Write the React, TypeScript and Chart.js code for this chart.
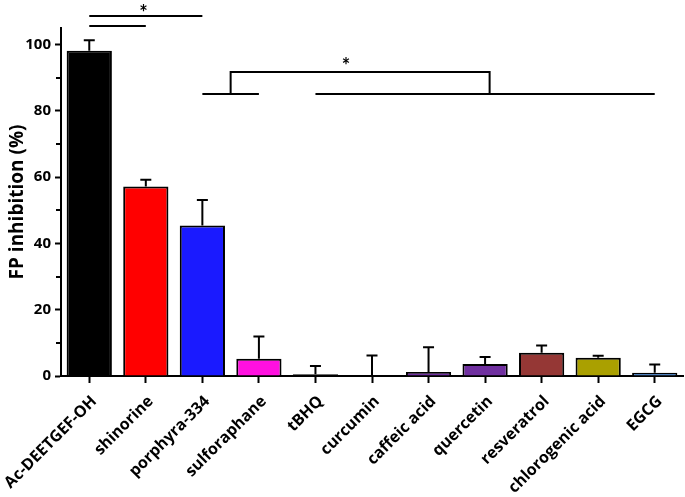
import React, { useEffect, useRef } from "react";
import { Chart, registerables } from "chart.js";

Chart.register(...registerables);

const categories = [
  "Ac-DEETGEF-OH",
  "shinorine",
  "porphyra-334",
  "sulforaphane",
  "tBHQ",
  "curcumin",
  "caffeic acid",
  "quercetin",
  "resveratrol",
  "chlorogenic acid",
  "EGCG",
];
const values = [98.1, 57.2, 45.4, 5.2, 0.5, 0, 1.2, 3.6, 7.0, 5.5, 1.0];
const errors = [3.2, 2.0, 7.7, 6.7, 2.5, 6.2, 7.5, 2.1, 2.2, 0.6, 2.5];
const barColors = [
  "#000000",
  "#ff0000",
  "#1a1aff",
  "#ff10e0",
  "#000000",
  "#000000",
  "#7030a0",
  "#7030a0",
  "#953735",
  "#aaa000",
  "#4f81bd",
];
const yTickValues = [0, 20, 40, 60, 80, 100];
const yMinorTicks = [10, 30, 50, 70, 90];
const yAxisTitle = "FP inhibition (%)";

// significance annotations (category index / value units)
const sigLines = [
  { from: 0, to: 2, level: 108.6 },
  { from: 0, to: 1, level: 105.6 },
  { from: 2, to: 3, level: 85.2 },
  { from: 4, to: 10, level: 85.2 },
];
const sigBrackets = [{ from: 2.5, to: 7.08, base: 85.2, top: 91.8 }];
const sigStars = [
  { at: 0.96, level: 110.6 },
  { at: 4.54, level: 94.6 },
];

const FONT = "'Open Sans', 'DejaVu Sans', sans-serif";
const STAR_FONT = "Lato, 'DejaVu Sans', sans-serif";

const overlayPlugin = {
  id: "overlay",
  afterDatasetsDraw(chart: any) {
    const ctx = chart.ctx;
    const x = chart.scales.x;
    const y = chart.scales.y;
    ctx.save();
    ctx.strokeStyle = "#000";
    ctx.lineWidth = 2;
    values.forEach((v, i) => {
      const px = x.getPixelForValue(i);
      const y0 = y.getPixelForValue(v);
      const y1 = y.getPixelForValue(v + errors[i]);
      ctx.beginPath();
      ctx.moveTo(px, y0);
      ctx.lineTo(px, y1);
      ctx.moveTo(px - 5.5, y1);
      ctx.lineTo(px + 5.5, y1);
      ctx.stroke();
    });
    ctx.restore();
  },
  afterDraw(chart: any) {
    const ctx = chart.ctx;
    const x = chart.scales.x;
    const y = chart.scales.y;
    ctx.save();
    ctx.strokeStyle = "#000";
    ctx.lineWidth = 2;
    const left = chart.chartArea.left;
    yMinorTicks.forEach((v) => {
      const py = Math.round(y.getPixelForValue(v));
      ctx.beginPath();
      ctx.moveTo(left - 5, py);
      ctx.lineTo(left, py);
      ctx.stroke();
    });
    sigLines.forEach((s) => {
      const py = Math.round(y.getPixelForValue(s.level));
      ctx.beginPath();
      ctx.moveTo(x.getPixelForValue(s.from), py);
      ctx.lineTo(x.getPixelForValue(s.to), py);
      ctx.stroke();
    });
    sigBrackets.forEach((b) => {
      const pb = Math.round(y.getPixelForValue(b.base));
      const pt = Math.round(y.getPixelForValue(b.top));
      const x0 = x.getPixelForValue(b.from);
      const x1 = x.getPixelForValue(b.to);
      ctx.beginPath();
      ctx.moveTo(x0, pb);
      ctx.lineTo(x0, pt);
      ctx.lineTo(x1, pt);
      ctx.lineTo(x1, pb);
      ctx.stroke();
    });
    ctx.fillStyle = "#000";
    ctx.font = `bold 20px ${STAR_FONT}`;
    ctx.textAlign = "center";
    ctx.textBaseline = "middle";
    sigStars.forEach((s) => {
      ctx.fillText("*", x.getPixelForValue(s.at), y.getPixelForValue(s.level) + 4);
    });
    ctx.restore();
  },
};

export default function App() {
  const ref = useRef<HTMLCanvasElement>(null);
  useEffect(() => {
    const chart = new Chart(ref.current as HTMLCanvasElement, {
      type: "bar",
      data: {
        labels: categories,
        datasets: [
          {
            data: values,
            backgroundColor: barColors,
            borderColor: "#000",
            borderWidth: 2,
            borderSkipped: "bottom",
            barPercentage: 0.8,
            categoryPercentage: 1,
          },
        ],
      },
      options: {
        responsive: false,
        animation: false,
        layout: { padding: { top: 28, right: 2, left: 0, bottom: 0 } },
        plugins: {
          legend: { display: false },
          tooltip: { enabled: false },
        },
        scales: {
          x: {
            offset: true,
            grid: {
              offset: false,
              drawOnChartArea: false,
              drawTicks: true,
              tickLength: 7,
              tickWidth: 2,
              tickColor: "#000",
            },
            border: { color: "#000", width: 2 },
            ticks: {
              color: "#000",
              font: { family: FONT, size: 16, weight: "bold" },
              maxRotation: 45,
              minRotation: 45,
              autoSkip: false,
              padding: 9,
              labelOffset: 5,
            },
            afterFit(scale: any) {
              scale.height = 121;
              scale.paddingLeft = 0;
              scale.paddingRight = 0;
            },
          },
          y: {
            min: 0,
            max: 105,
            grid: {
              drawOnChartArea: false,
              drawTicks: true,
              tickLength: 6,
              tickWidth: 2,
              tickColor: "#000",
            },
            border: { color: "#000", width: 2 },
            afterBuildTicks(scale: any) {
              scale.ticks = yTickValues.map((v) => ({ value: v }));
            },
            ticks: {
              color: "#000",
              font: { family: FONT, size: 15, weight: "bold" },
              padding: 4,
              includeBounds: false,
            },
            title: {
              display: true,
              text: yAxisTitle,
              color: "#000",
              font: { family: FONT, size: 19, weight: "bold" },
              padding: { top: 6, bottom: 0 },
            },
            afterFit(scale: any) {
              scale.width = 61;
            },
          },
        },
      },
      plugins: [overlayPlugin],
    });
    return () => chart.destroy();
  }, []);
  return (
    <div style={{ position: "absolute", left: 0, top: 0, width: 685, height: 497, background: "#fff" }}>
      <canvas ref={ref} width={685} height={497} />
    </div>
  );
}
